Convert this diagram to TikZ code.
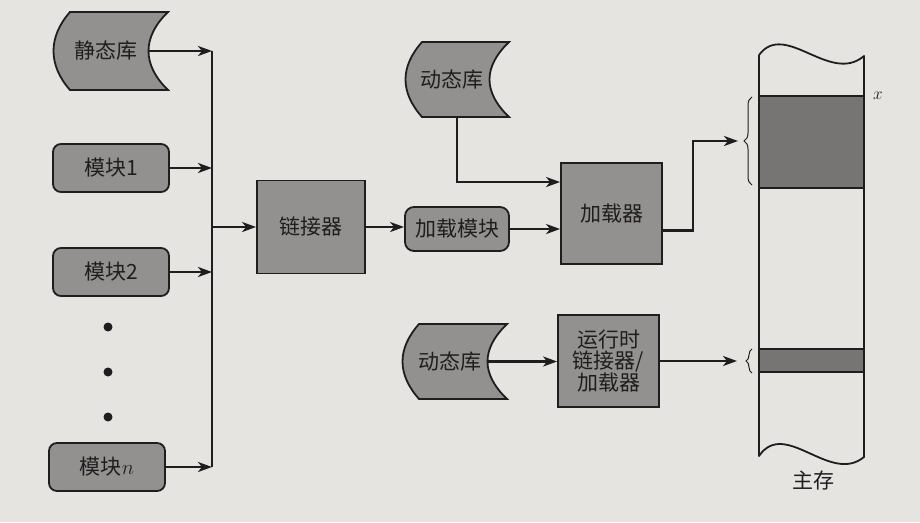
\documentclass[tikz,border=0pt]{standalone}
\usepackage{fontspec}
\newfontfamily\cjk{Noto Sans CJK SC}
\usetikzlibrary{arrows.meta,decorations.pathreplacing,calc}
\definecolor{bg}{HTML}{E6E4E1}
\definecolor{ink}{HTML}{1E1E1E}
\definecolor{shade}{HTML}{939190}
\definecolor{memshade}{HTML}{777574}
\newcommand\dolib[6]{%
  \draw[shp] (#2+17,#4) -- (#3,#4) .. controls (#3-26,#4+25) and (#3-26,#5-25) .. (#3,#5)
     -- (#2+17,#5) .. controls (#2-5,#5-25) and (#2-5,#4+25) .. (#2+17,#4) -- cycle;
  \coordinate (#1-e) at (#3-20,{(#4+#5)/2});
  \coordinate (#1-b) at ({(#2+#3)/2},#5);
  \node[txt] (#1) at ({(#2+#3)/2-5},{(#4+#5)/2}) {#6};
}
\begin{document}
\begin{tikzpicture}[x=1pt,y=-1pt,
  txt/.style={font=\cjk\fontsize{21}{21}\selectfont, text=ink, inner sep=0pt, align=center},
  shp/.style={draw=ink, line width=1.8pt, fill=shade},
  modbox/.style={shp, txt, rounded corners=8pt, minimum width=116pt, minimum height=48pt},
  sqbox/.style={shp, txt},
  ln/.style={draw=ink, line width=2.4pt},
  arr/.style={ln, -{Stealth[length=14pt,width=10pt,inset=4pt]}}]
\fill[bg] (0,0) rectangle (920,522);
\useasboundingbox (0,0) rectangle (920,522);

% left column
\dolib{slib}{53}{168}{12}{90}{静态库}
\node[modbox] (m1) at (111,168) {模块1};
\node[modbox] (m2) at (111,272) {模块2};
\node[modbox] (mn) at (107,467) {模块$n$};
\fill[ink] (108,327) circle (4.5pt);
\fill[ink] (108,372) circle (4.5pt);
\fill[ink] (108,417) circle (4.5pt);

\coordinate (bt) at (212,51);
\coordinate (bb) at (212,467);
\draw[ln] (bt) -- (bb);
\draw[arr] (slib-e) -- (bt);
\draw[arr] (m1.east) -- (m1.east -| bt);
\draw[arr] (m2.east) -- (m2.east -| bt);
\draw[arr] (mn.east) -- (mn.east -| bt);

% middle
\node[sqbox, minimum width=108pt, minimum height=93pt] (linker) at (311,227) {链接器};
\node[modbox, minimum width=104pt, minimum height=44pt, rounded corners=9pt] (lm) at (457,229) {加载模块};
\node[sqbox, minimum width=101pt, minimum height=101pt] (loader) at (611.5,213.5) {加载器};
\dolib{dyn1}{405}{509}{42}{117}{动态库}
\dolib{dyn2}{402}{507}{324}{399}{动态库}
\node[sqbox, minimum width=101pt, minimum height=92pt] (rt) at (608.5,361) {运行时\\链接器/\\加载器};

\draw[arr] (linker.west -| bt) -- (linker.west);
\draw[arr] (linker.east) -- (linker.east -| lm.west);
\draw[arr] (lm.east) -- (lm.east -| loader.west);
\draw[arr] (dyn1-b) |- ([yshift=31.5pt]loader.west);
\draw[arr] (dyn2-e) -- (dyn2-e -| rt.west);

% main memory
\fill[memshade] (759,96) rectangle (864,188);
\fill[memshade] (759,349) rectangle (864,372);
\draw[ln] (759,96) -- (864,96);
\draw[ln] (759,188) -- (864,188);
\draw[ln] (759,349) -- (864,349);
\draw[ln] (759,372) -- (864,372);
\draw[draw=ink, line width=1.8pt, line join=round]
  (759,55) -- (759,456) .. controls (785,418) and (830,485) .. (864,457)
  -- (864,56) .. controls (830,85) and (785,20) .. (759,55);
\node[font=\fontsize{19}{19}\selectfont, text=ink] (xl) at (878,96) {$x$};
\node[txt] (mem) at (813,481) {主存};

\coordinate (b1) at (738,141);
\coordinate (b2) at (737,361);
\draw[draw=ink, line width=1pt, decorate, decoration={brace, amplitude=8pt}] (752,185) -- (752,97);
\draw[draw=ink, line width=1pt, decorate, decoration={brace, amplitude=6pt}] (752,373) -- (752,349);
\draw[arr] ([yshift=-17pt]loader.east) -- ++(30,0) |- (b1);
\draw[arr] (rt.east) -- (b2);
\end{tikzpicture}
\end{document}
